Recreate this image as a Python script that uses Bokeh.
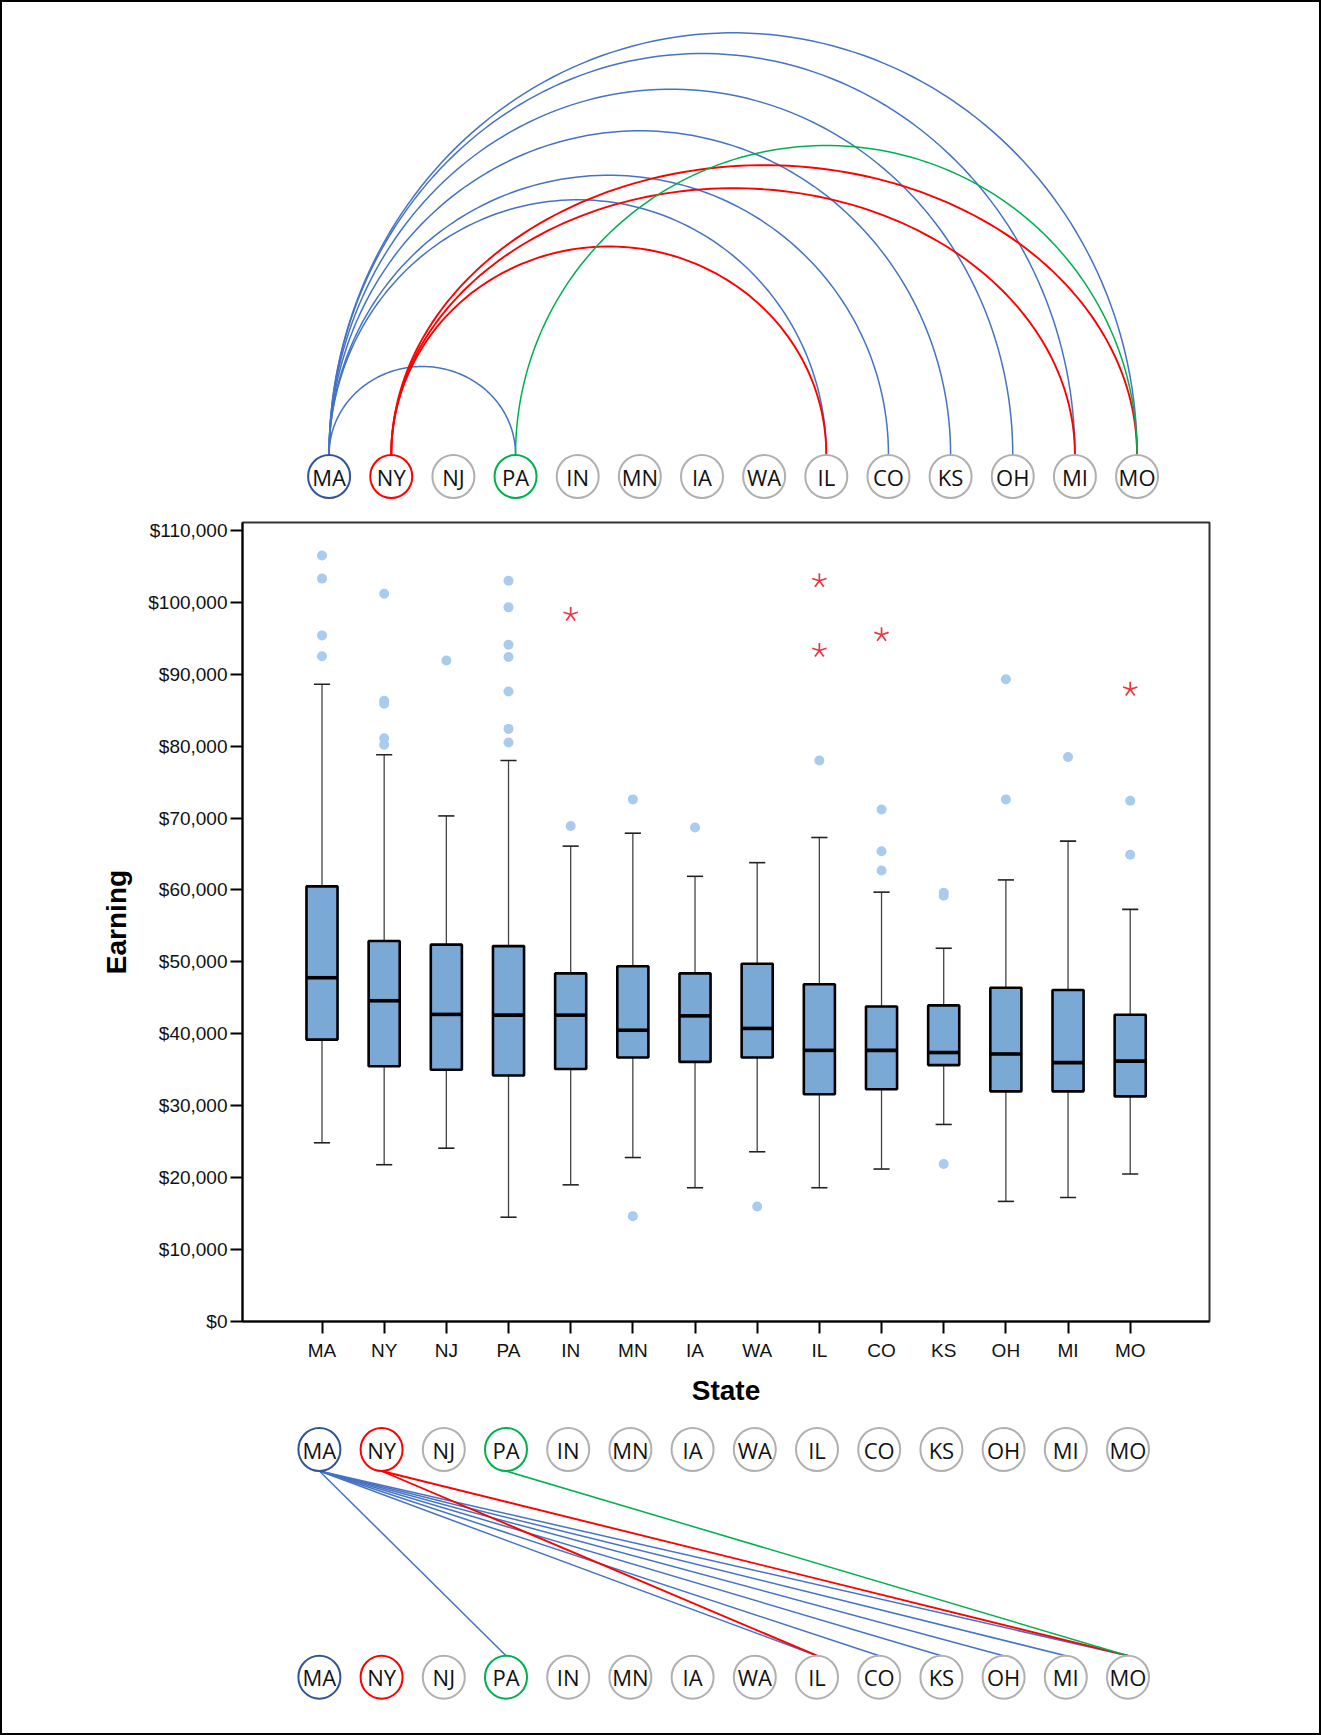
import numpy as np
from bokeh.plotting import figure
from bokeh.models import Range1d, FixedTicker, NumeralTickFormatter
from bokeh.layouts import column
from bokeh.embed import file_html
from bokeh.resources import INLINE
from bokeh.core.properties import value

# ---------------- data ----------------
states = ["MA", "NY", "NJ", "PA", "IN", "MN", "IA", "WA", "IL", "CO", "KS", "OH", "MI", "MO"]

whisker_low = [24850, 21800, 24100, 14500, 19000, 22800, 18600, 23600, 18600, 21200, 27400, 16700, 17250, 20500]
q1 = [39200, 35500, 35000, 34200, 35100, 36700, 36100, 36700, 31600, 32300, 35650, 32000, 32000, 31300]
median = [47800, 44600, 42700, 42600, 42600, 40500, 42500, 40750, 37700, 37700, 37400, 37200, 36000, 36200]
q3 = [60500, 52900, 52400, 52200, 48400, 49400, 48400, 49750, 46900, 43800, 43950, 46400, 46100, 42650]
whisker_high = [88600, 78800, 70300, 78000, 66100, 67900, 61900, 63800, 67300, 59700, 51900, 61400, 66800, 57300]

outlier_state = ["MA", "MA", "MA", "MA",
                 "NY", "NY", "NY", "NY", "NY",
                 "NJ",
                 "PA", "PA", "PA", "PA", "PA", "PA", "PA",
                 "IN",
                 "MN", "MN",
                 "IA",
                 "WA",
                 "IL",
                 "CO", "CO", "CO",
                 "KS", "KS", "KS",
                 "OH", "OH",
                 "MI",
                 "MO", "MO"]
outlier_value = [106500, 103300, 95400, 92500,
                 101200, 86300, 85900, 81100, 80200,
                 91900,
                 103000, 99300, 94100, 92400, 87600, 82400, 80500,
                 68900,
                 72600, 14650,
                 68700,
                 16000,
                 78000,
                 71200, 65400, 62700,
                 59600, 59200, 21900,
                 89300, 72600,
                 78500,
                 72400, 64900]

extreme_state = ["IN", "IL", "IL", "CO", "MO"]
extreme_value = [98300, 103000, 93300, 95500, 87900]

y_ticks = [0, 10000, 20000, 30000, 40000, 50000, 60000, 70000, 80000, 90000, 100000, 110000]

# arcs (top): source, target, arc height in node spacings
arc_src = ["MA", "MA", "MA", "MA", "MA", "MA", "MA", "NY", "NY", "NY", "PA"]
arc_tgt = ["PA", "IL", "CO", "KS", "OH", "MI", "MO", "IL", "MI", "MO", "MO"]
arc_height = [1.416, 4.098, 4.494, 5.208, 5.878, 6.452, 6.785, 3.347, 4.285, 4.655, 4.972]

# straight links (bottom)
line_src = ["MA", "MA", "MA", "MA", "MA", "MA", "MA", "NY", "NY", "PA"]
line_tgt = ["PA", "IL", "CO", "KS", "OH", "MI", "MO", "IL", "MO", "MO"]

link_color = {"MA": "#4472C4", "NY": "#FF0000", "PA": "#00B050"}
link_width = {"MA": 1.5, "NY": 1.9, "PA": 1.5}
node_color = {"MA": "#2F5597", "NY": "#FF0000", "PA": "#00B050"}

# ---------------- helpers ----------------
idx = {s: i for i, s in enumerate(states)}
W = 1317
NODE_W, NODE_H = 42, 43


def node_row(p, y):
    xs = list(range(len(states)))
    cols = [node_color.get(s, "#B0B0B0") for s in states]
    p.ellipse(x=xs, y=[y] * len(xs), width=NODE_W, height=NODE_H,
              width_units="screen", height_units="screen",
              fill_color="white", line_color=cols, line_width=2)
    p.text(x=xs, y=[y] * len(xs), text=states, text_align="center",
           text_baseline="middle", text_font=value("Open Sans"),
           text_font_size="22px", text_color="#111111")


def bare_fig(height, xr, yr):
    p = figure(width=W, height=height, x_range=xr, y_range=yr,
               x_axis_type=None, y_axis_type=None, toolbar_location=None,
               output_backend="svg", min_border=0)
    p.min_border_left = p.min_border_right = p.min_border_top = p.min_border_bottom = 0
    p.outline_line_color = None
    p.grid.visible = False
    p.background_fill_color = "white"
    p.border_fill_color = "white"
    p.frame_align = False
    return p


# ---------------- top: arc diagram ----------------
TOP_H = 503
sp_top = 62.15          # px per node
x0_top = 326.6          # px of first node
base_top = 452          # px from top of baseline
xr_top = Range1d(-x0_top / sp_top, (W - x0_top) / sp_top)
yr_top = Range1d(-(TOP_H - base_top) / sp_top, base_top / sp_top)
top = bare_fig(TOP_H, xr_top, yr_top)

theta = np.linspace(0, np.pi, 120)
axs, ays, acol, awid = [], [], [], []
for s, t, h in zip(arc_src, arc_tgt, arc_height):
    a, b = idx[s], idx[t]
    cx, r = (a + b) / 2, (b - a) / 2
    axs.append(list(cx - r * np.cos(theta)))
    ays.append(list(h * np.sin(theta)))
    acol.append(link_color[s])
    awid.append(link_width[s])
top.multi_line(xs=axs, ys=ays, line_color=acol, line_width=awid)
node_row(top, -22 / sp_top)

# ---------------- middle: box plot ----------------
BOX_H = 907
sp_box = 62.17
frame_left, frame_right = 240, 110
frame_w = W - frame_left - frame_right
off = 79.5 / sp_box
xr_box = Range1d(-off, frame_w / sp_box - off)
box = figure(width=W, height=BOX_H, x_range=xr_box, y_range=Range1d(0, 111100),
             toolbar_location=None, output_backend="svg",
             min_border_left=frame_left, min_border_right=frame_right,
             min_border_top=17, min_border_bottom=91)
box.frame_align = False
box.grid.visible = False
box.outline_line_color = "#333333"
box.outline_line_width = 2
box.background_fill_color = "white"
box.border_fill_color = "white"

xs = list(range(len(states)))
# whiskers
box.segment(x0=xs, y0=q3, x1=xs, y1=whisker_high, line_color="#444444", line_width=1.3)
box.segment(x0=xs, y0=q1, x1=xs, y1=whisker_low, line_color="#444444", line_width=1.3)
cap = 0.13
box.segment(x0=[x - cap for x in xs], y0=whisker_high, x1=[x + cap for x in xs], y1=whisker_high,
            line_color="#222222", line_width=1.6)
box.segment(x0=[x - cap for x in xs], y0=whisker_low, x1=[x + cap for x in xs], y1=whisker_low,
            line_color="#222222", line_width=1.6)
# boxes
box.vbar(x=xs, width=0.5, bottom=q1, top=q3, fill_color="#7BA9D6",
         line_color="black", line_width=2.6)
box.segment(x0=[x - 0.25 for x in xs], y0=median, x1=[x + 0.25 for x in xs], y1=median,
            line_color="black", line_width=3.6)
# outliers
box.scatter(x=[idx[s] for s in outlier_state], y=outlier_value, marker="circle",
            size=10, fill_color="#A8CBEE", line_color=None)
# extremes: asterisks
ex = [idx[s] for s in extreme_state]
for ang in [90, 18, 162, 234, 306]:
    box.ray(x=ex, y=extreme_value, length=7.5, length_units="screen", angle=ang,
            angle_units="deg", line_color="#EE3340", line_width=1.7)

xa = box.xaxis[0]
xa.ticker = FixedTicker(ticks=xs)
xa.major_label_overrides = {i: s for i, s in enumerate(states)}
xa.axis_label = "State"
ya = box.yaxis[0]
ya.ticker = FixedTicker(ticks=y_ticks)
ya.formatter = NumeralTickFormatter(format="$0,0")
ya.axis_label = "Earning"
for ax in (xa, ya):
    ax.minor_tick_line_color = None
    ax.major_tick_in = 0
    ax.major_tick_out = 12
    ax.major_tick_line_width = 2
    ax.major_tick_line_color = "black"
    ax.axis_line_width = 2
    ax.axis_line_color = "black"
    ax.major_label_text_font = "Liberation Sans"
    ax.major_label_text_font_size = "19px"
    ax.major_label_text_color = "#111111"
    ax.axis_label_text_font = "Liberation Sans"
    ax.axis_label_text_font_size = "28px"
    ax.axis_label_text_font_style = "bold"
    ax.axis_label_text_color = "black"
xa.major_label_standoff = 6
xa.axis_label_standoff = 11
ya.major_label_standoff = 3
ya.axis_label_standoff = 13

# ---------------- bottom: straight links ----------------
BOT_H = 321
sp_bot = 62.2
x0_bot = 316.9
row1_px, row2_px = 37, 264.7
row_gap = row2_px - row1_px
xr_bot = Range1d(-x0_bot / sp_bot, (W - x0_bot) / sp_bot)
yr_bot = Range1d(-(BOT_H - row2_px) / row_gap, 1 + row1_px / row_gap)
bot = bare_fig(BOT_H, xr_bot, yr_bot)
rad = (NODE_H / 2) / row_gap
bot.segment(x0=[idx[s] for s in line_src], y0=[1 - rad] * len(line_src),
            x1=[idx[t] for t in line_tgt], y1=[rad] * len(line_tgt),
            line_color=[link_color[s] for s in line_src],
            line_width=[link_width[s] for s in line_src])
node_row(bot, 1)
node_row(bot, 0)

page = column(top, box, bot, spacing=0,
              styles={"border": "2px solid black"})

open("out.html", "w").write(file_html(page, INLINE))
